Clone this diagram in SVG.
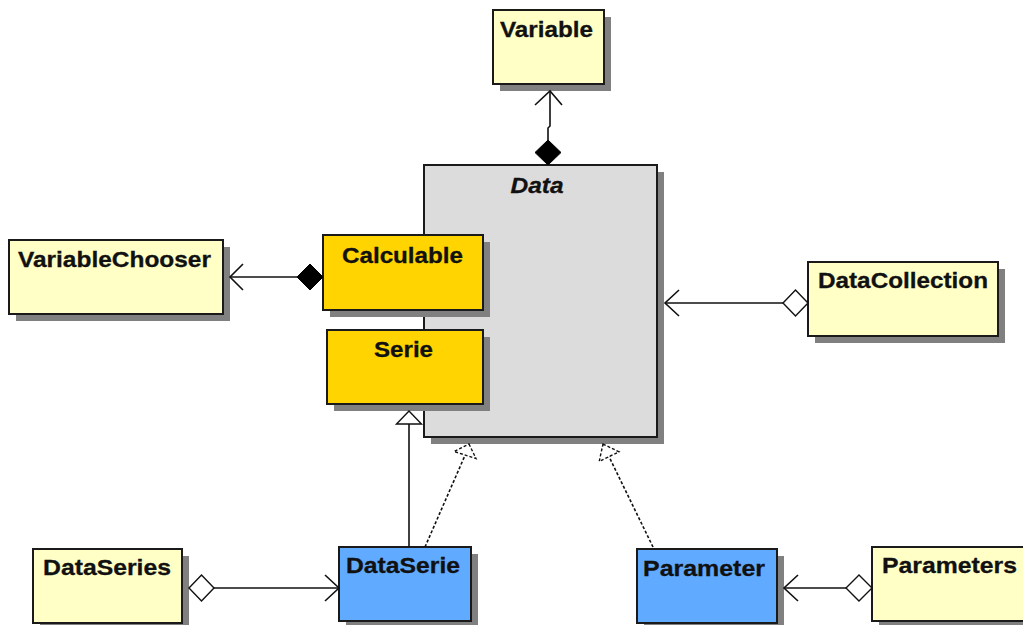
<svg xmlns="http://www.w3.org/2000/svg" width="1023" height="625" viewBox="0 0 1023 625">
<style>
.sh{fill:#808080}
.box{stroke:#1a1a1a;stroke-width:2}
.y{fill:#ffffc6}
.g{fill:#ffd400}
.b{fill:#60aaff}
.d{fill:#dcdcdc}
.t{font-family:"Liberation Sans",Arial,sans-serif;font-weight:bold;font-size:22px;fill:#111;stroke:#111;stroke-width:0.3}
.ln{fill:none;stroke:#111;stroke-width:1.6}
.dash{stroke-dasharray:3,2}
.wf{fill:#fff;stroke:#111;stroke-width:1.4}
.bf{fill:#000;stroke:#000;stroke-width:1}
</style>
<rect width="1023" height="625" fill="#fff"/>
<g id="Data">
<rect class="sh" x="431" y="172" width="233" height="272"/>
<rect class="box d" x="424" y="165" width="233" height="272"/>
<text class="t" x="537" y="193" text-anchor="middle" font-style="italic" textLength="53" lengthAdjust="spacingAndGlyphs">Data</text>
</g>
<g id="Variable">
<rect class="sh" x="500" y="17" width="111" height="74"/>
<rect class="box y" x="493" y="10" width="111" height="74"/>
<text class="t" x="500" y="37" textLength="93" lengthAdjust="spacingAndGlyphs">Variable</text>
</g>
<g id="VariableChooser">
<rect class="sh" x="16" y="247" width="214" height="74"/>
<rect class="box y" x="9" y="240" width="214" height="74"/>
<text class="t" x="18" y="267" textLength="193" lengthAdjust="spacingAndGlyphs">VariableChooser</text>
</g>
<g id="Calculable">
<rect class="sh" x="330" y="242" width="160" height="75"/>
<rect class="box g" x="323" y="235" width="160" height="75"/>
<text class="t" x="342" y="263" textLength="121" lengthAdjust="spacingAndGlyphs">Calculable</text>
</g>
<g id="Serie">
<rect class="sh" x="334" y="337" width="156" height="74"/>
<rect class="box g" x="327" y="330" width="156" height="74"/>
<text class="t" x="374" y="357" textLength="59" lengthAdjust="spacingAndGlyphs">Serie</text>
</g>
<g id="DataCollection">
<rect class="sh" x="815" y="269" width="190" height="74"/>
<rect class="box y" x="808" y="262" width="190" height="74"/>
<text class="t" x="818" y="288" textLength="170" lengthAdjust="spacingAndGlyphs">DataCollection</text>
</g>
<g id="DataSeries">
<rect class="sh" x="40" y="556" width="149" height="74"/>
<rect class="box y" x="33" y="549" width="149" height="74"/>
<text class="t" x="43" y="575" textLength="128" lengthAdjust="spacingAndGlyphs">DataSeries</text>
</g>
<g id="DataSerie">
<rect class="sh" x="346" y="554" width="132" height="74"/>
<rect class="box b" x="339" y="547" width="132" height="74"/>
<text class="t" x="346" y="573" textLength="114" lengthAdjust="spacingAndGlyphs">DataSerie</text>
</g>
<g id="Parameter">
<rect class="sh" x="644" y="556" width="140" height="74"/>
<rect class="box b" x="637" y="549" width="140" height="74"/>
<text class="t" x="643" y="576" textLength="122" lengthAdjust="spacingAndGlyphs">Parameter</text>
</g>
<g id="Parameters">
<rect class="sh" x="879" y="554" width="160" height="74"/>
<rect class="box y" x="872" y="547" width="160" height="74"/>
<text class="t" x="882" y="573" textLength="135" lengthAdjust="spacingAndGlyphs">Parameters</text>
</g>
<g id="connectors">
<path class="ln" d="M548,140 L548,128 L550,126 L550,91"/>
<path class="ln" d="M535,105 L550,91 L562,105"/>
<polygon class="bf" points="548,140 561,152.5 548,165 535,152.5"/>
<path class="ln" d="M297,277 L230,277"/>
<path class="ln" d="M243,264 L230,277 L243,290"/>
<polygon class="bf" points="323,277 310,290 297,277 310,264"/>
<path class="ln" d="M783,303 L665,303"/>
<path class="ln" d="M679,290 L665,303 L679,316"/>
<polygon class="wf" points="808,303 795.5,316 783,303 795.5,290"/>
<path class="ln" d="M214,588 L339,588"/>
<path class="ln" d="M325,575 L339,588 L325,601"/>
<polygon class="wf" points="189,588 201.5,575 214,588 201.5,601"/>
<path class="ln" d="M846,588 L784,588"/>
<path class="ln" d="M798,575 L784,588 L798,601"/>
<polygon class="wf" points="872,588 859,601 846,588 859,575"/>
<path class="ln" d="M409,547 L409,424"/>
<polygon class="wf" points="409,411 421.5,424 396.5,424"/>
<path class="ln dash" d="M425,547 L464.4,456.8"/>
<polygon class="wf dash" points="469,444 476,458.5 454,451.5"/>
<path class="ln dash" d="M653,547 L609,456.6"/>
<polygon class="wf dash" points="603,444 619,451.8 599.2,461.4"/>
</g>
</svg>
